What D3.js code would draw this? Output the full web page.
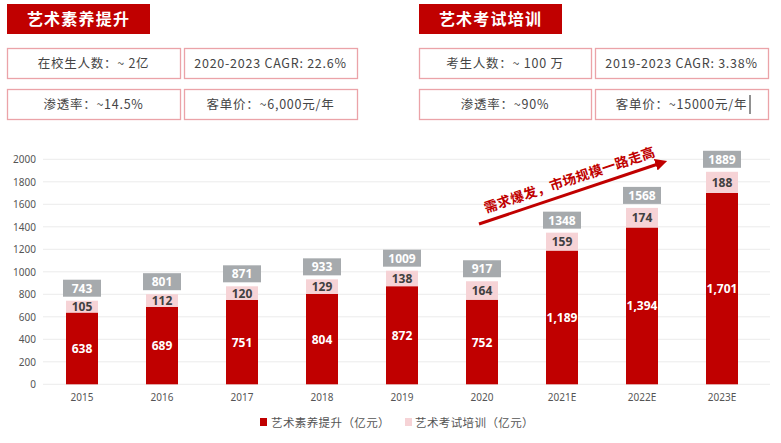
<!DOCTYPE html>
<html><head><meta charset="utf-8">
<script src="https://cdn.jsdelivr.net/npm/d3@7"></script>
<style>
html,body{margin:0;padding:0;background:#fff;}
svg{display:block;font-family:"Noto Sans CJK SC","Noto Sans",sans-serif;}
</style></head>
<body>
<svg id="c" width="781" height="443"></svg>
<script>
const categories = ["2015","2016","2017","2018","2019","2020","2021E","2022E","2023E"];
const artLiteracy = [638, 689, 751, 804, 872, 752, 1189, 1394, 1701];
const artExam = [105, 112, 120, 129, 138, 164, 159, 174, 188];
const totals = [743, 801, 871, 933, 1009, 917, 1348, 1568, 1889];
const yTicks = [0,200,400,600,800,1000,1200,1400,1600,1800,2000];
const seriesNames = ["艺术素养提升（亿元）","艺术考试培训（亿元）"];
const leftTitle = "艺术素养提升";
const rightTitle = "艺术考试培训";
const leftBoxes = [["在校生人数：~ 2亿","2020-2023 CAGR: 22.6%"],["渗透率：~14.5%","客单价：~6,000元/年"]];
const rightBoxes = [["考生人数：~ 100 万","2019-2023 CAGR: 3.38%"],["渗透率：~90%","客单价：~15000元/年"]];
const arrowText = "需求爆发，市场规模一路走高";

const RED = "#c00000", PINK = "#f6d3d6", GREY = "#a6aaad", BORDER = "#eba3a8";
const svg = d3.select("#c");

function panel(x0, title, boxes, widths){
  svg.append("rect").attr("x",x0).attr("y",4).attr("width",143).attr("height",30).attr("fill",RED);
  svg.append("text").attr("x",x0+71.5).attr("y",25).attr("text-anchor","middle")
    .attr("fill","#fff").attr("font-size",16).attr("font-weight","bold").attr("letter-spacing",1.2).text(title);
  const rowsY = [48,89];
  boxes.forEach((row,ri)=>{
    let x = x0;
    row.forEach((t,ci)=>{
      const w = widths[ci];
      svg.append("rect").attr("x",x+0.5).attr("y",rowsY[ri]+0.5).attr("width",w).attr("height",30)
        .attr("fill","#fff").attr("stroke",BORDER).attr("stroke-width",1.3);
      svg.append("text").attr("x",x+w/2).attr("y",rowsY[ri]+20).attr("text-anchor","middle")
        .attr("fill","#454545").attr("font-size",12.5).attr("letter-spacing",0.75).text(t);
      x += w + 4;
    });
  });
}
panel(7, leftTitle, leftBoxes, [173,173]);
panel(419, rightTitle, rightBoxes, [172,173]);
svg.append("line").attr("x1",750).attr("x2",750).attr("y1",95).attr("y2",114).attr("stroke","#222").attr("stroke-width",1);

const x = d3.scaleBand().domain(categories).range([42,762]).paddingInner(0.6).paddingOuter(0.3);
const y = d3.scaleLinear().domain([0,2000]).range([384.3,159.3]);

svg.append("g").selectAll("line").data(yTicks).join("line")
  .attr("x1",43).attr("x2",770).attr("y1",d=>y(d)).attr("y2",d=>y(d))
  .attr("stroke","#ececec").attr("stroke-width",1);

const yAxis = svg.append("g").attr("transform","translate(43,0)")
  .call(d3.axisLeft(y).tickValues(yTicks).tickSize(0).tickPadding(7).tickFormat(d3.format("d")));
yAxis.select(".domain").remove();
yAxis.selectAll("text").attr("font-size",10).attr("fill","#555").attr("font-family","'Noto Sans',sans-serif");

const xAxis = svg.append("g").attr("transform","translate(0,388)")
  .call(d3.axisBottom(x).tickSize(0).tickPadding(6));
xAxis.select(".domain").remove();
xAxis.selectAll("text").attr("font-size",10).attr("fill","#555").attr("font-family","'Noto Sans',sans-serif");

const data = categories.map((c,i)=>({c, a:artLiteracy[i], b:artExam[i], t:totals[i]}));
const bw = x.bandwidth();
const g = svg.append("g");
g.selectAll(".r").data(data).join("rect").attr("class","r")
  .attr("x",d=>x(d.c)).attr("width",bw).attr("y",d=>y(d.a)).attr("height",d=>y(0)-y(d.a)).attr("fill",RED);
g.selectAll(".p").data(data).join("rect").attr("class","p")
  .attr("x",d=>x(d.c)).attr("width",bw).attr("y",d=>y(d.a+d.b)).attr("height",d=>y(d.a)-y(d.a+d.b)).attr("fill",PINK);
const fmt = d3.format(",");
g.selectAll(".rl").data(data).join("text").attr("class","rl")
  .attr("x",d=>x(d.c)+bw/2).attr("y",d=>(y(0)+y(d.a))/2+4.5).attr("text-anchor","middle")
  .attr("fill","#fff").attr("font-size",12).attr("font-weight","bold")
  .attr("font-family","'Noto Sans',sans-serif").text(d=>fmt(d.a));
g.selectAll(".pl").data(data).join("text").attr("class","pl")
  .attr("x",d=>x(d.c)+bw/2).attr("y",d=>(y(d.a)+y(d.a+d.b))/2+4.5).attr("text-anchor","middle")
  .attr("fill","#404040").attr("font-size",12).attr("font-weight","bold")
  .attr("font-family","'Noto Sans',sans-serif").text(d=>d.b);
g.selectAll(".tb").data(data).join("rect").attr("class","tb")
  .attr("x",d=>x(d.c)+bw/2-19).attr("width",38).attr("y",d=>y(d.a+d.b)-21).attr("height",17).attr("fill",GREY);
g.selectAll(".tl").data(data).join("text").attr("class","tl")
  .attr("x",d=>x(d.c)+bw/2).attr("y",d=>y(d.a+d.b)-8).attr("text-anchor","middle")
  .attr("fill","#fff").attr("font-size",12).attr("font-weight","bold")
  .attr("font-family","'Noto Sans',sans-serif").text(d=>d.t);

const defs = svg.append("defs");
defs.append("marker").attr("id","ah").attr("viewBox","0 0 10 10").attr("refX",2).attr("refY",5)
  .attr("markerWidth",4).attr("markerHeight",4).attr("orient","auto")
  .append("path").attr("d","M0,0L10,5L0,10Z").attr("fill",RED);
svg.append("line").attr("x1",479).attr("y1",224).attr("x2",658).attr("y2",164)
  .attr("stroke",RED).attr("stroke-width",3).attr("marker-end","url(#ah)");
const ang = Math.atan2(164-224, 658-479)*180/Math.PI;
svg.append("text").attr("transform",`translate(486,213) rotate(${ang})`)
  .attr("fill",RED).attr("font-size",13.5).attr("font-weight","bold").attr("letter-spacing",0.3).text(arrowText);

const lg = svg.append("g");
lg.append("rect").attr("x",260).attr("y",418).attr("width",7).attr("height",8).attr("fill",RED);
lg.append("text").attr("x",271).attr("y",426.5).attr("font-size",11.5).attr("letter-spacing",0.4).attr("fill","#555").text(seriesNames[0]);
lg.append("rect").attr("x",405).attr("y",418).attr("width",7).attr("height",8).attr("fill",PINK);
lg.append("text").attr("x",415).attr("y",426.5).attr("font-size",11.5).attr("letter-spacing",0.4).attr("fill","#555").text(seriesNames[1]);
</script>
</body></html>
